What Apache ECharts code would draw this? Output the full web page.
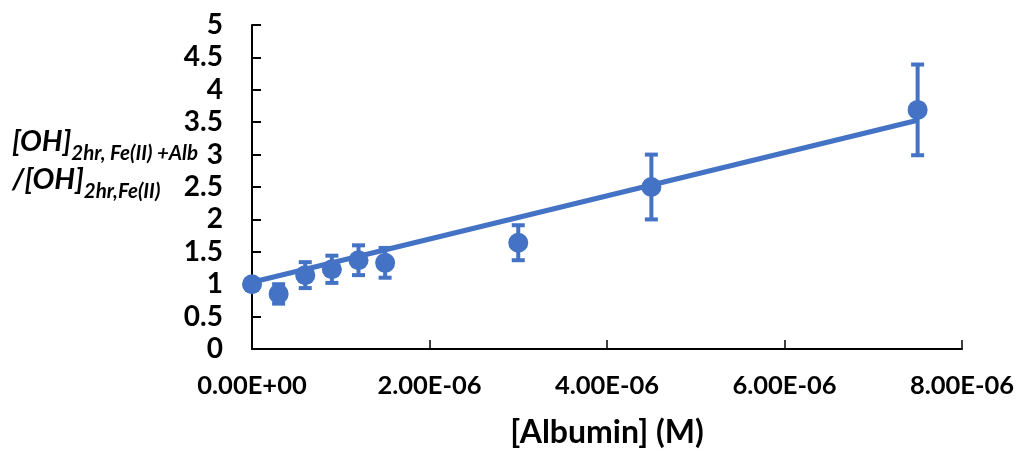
<!DOCTYPE html>
<html>
<head>
<meta charset="utf-8">
<script src="https://cdn.jsdelivr.net/npm/echarts@6/dist/echarts.min.js"></script>
<style>
  html, body { margin: 0; padding: 0; background: #fff; }
  #chart { width: 1018px; height: 454px; }
</style>
</head>
<body>
<div id="chart"></div>
<script>
// Albumin concentration (M)
const albumin = [0, 3.0e-7, 6.0e-7, 9.0e-7, 1.2e-6, 1.5e-6, 3.0e-6, 4.5e-6, 7.5e-6];
// Ratio [OH]2hr,Fe(II)+Alb / [OH]2hr,Fe(II)
const ratio = [1.0, 0.85, 1.14, 1.23, 1.37, 1.33, 1.64, 2.5, 3.69];
// Error bar half-widths
const errors = [0, 0.15, 0.2, 0.21, 0.23, 0.23, 0.27, 0.5, 0.7];
// Linear trend line end points
const trendX = [0, 7.5e-6];
const trendY = [1.03, 3.53];

const BLUE = '#4472C4';
const FONT = 'Lato, "Open Sans", sans-serif';

function sci(v) {
  if (v === 0) return '0.00E+00';
  const s = v.toExponential(2).split('e');
  const exp = parseInt(s[1], 10);
  const sign = exp < 0 ? '-' : '+';
  const mag = String(Math.abs(exp)).padStart(2, '0');
  return s[0] + 'E' + sign + mag;
}

const points = albumin.map((x, i) => [x, ratio[i]]);
const errData = albumin.map((x, i) => [x, ratio[i] - errors[i], ratio[i] + errors[i]]);
const trendData = trendX.map((x, i) => [x, trendY[i]]);

const chart = echarts.init(document.getElementById('chart'));
chart.setOption({
  animation: false,
  grid: { left: 252, right: 56, top: 25, bottom: 105, containLabel: false, outerBoundsMode: 'none' },
  xAxis: {
    type: 'value', min: 0, max: 8e-6, interval: 2e-6,
    axisLine: { lineStyle: { color: '#000', width: 2 } },
    axisTick: { inside: true, length: 9, lineStyle: { color: '#000', width: 1.5 } },
    axisLabel: { formatter: sci, margin: 24, fontFamily: FONT, fontWeight: 'bold', fontSize: 25.5, color: '#000' },
    splitLine: { show: false }
  },
  yAxis: {
    type: 'value', min: 0, max: 5, interval: 0.5,
    axisLine: { show: true, lineStyle: { color: '#000', width: 2 } },
    axisTick: { show: true, inside: true, length: 9, lineStyle: { color: '#000', width: 2 } },
    axisLabel: { margin: 29, fontFamily: FONT, fontWeight: 'bold', fontSize: 28, color: '#000' },
    splitLine: { show: false }
  },
  graphic: [
    {
      // x-axis title
      type: 'text', x: 607, y: 433,
      style: {
        text: '[Albumin] (M)', align: 'center', verticalAlign: 'middle',
        textAlign: 'center', textVerticalAlign: 'middle',
        font: 'bold 32px ' + FONT, fill: '#000'
      }
    },
    {
      // y-axis title with subscripts
      type: 'text', left: 12, top: 127,
      style: {
        text: '{m|[OH]}{s|2hr, Fe(II) +Alb}\n{m|/[OH]}{s|2hr,Fe(II)}',
        rich: {
          m: { fontFamily: FONT, fontWeight: 'bold', fontStyle: 'italic', fontSize: 29, lineHeight: 38, padding: [0, 0, 7, 0], verticalAlign: 'bottom', fill: '#000' },
          s: { fontFamily: FONT, fontWeight: 'bold', fontStyle: 'italic', fontSize: 20.5, lineHeight: 38, verticalAlign: 'bottom', fill: '#000' }
        }
      }
    }
  ],
  series: [
    {
      type: 'line', data: trendData, showSymbol: false, symbol: 'none',
      lineStyle: { color: BLUE, width: 5 }, z: 2
    },
    {
      type: 'custom', data: errData, z: 3,
      renderItem: function (params, api) {
        const x = api.value(0);
        const lo = api.coord([x, api.value(1)]);
        const hi = api.coord([x, api.value(2)]);
        const cap = 6.5;
        const st = { stroke: BLUE, lineWidth: 4 };
        return {
          type: 'group',
          children: [
            { type: 'line', shape: { x1: lo[0], y1: lo[1], x2: hi[0], y2: hi[1] }, style: st },
            { type: 'line', shape: { x1: lo[0] - cap, y1: lo[1], x2: lo[0] + cap, y2: lo[1] }, style: st },
            { type: 'line', shape: { x1: hi[0] - cap, y1: hi[1], x2: hi[0] + cap, y2: hi[1] }, style: st }
          ]
        };
      }
    },
    {
      type: 'scatter', data: points, symbol: 'circle', symbolSize: 20,
      itemStyle: { color: BLUE, opacity: 1 }, z: 4
    }
  ]
});
</script>
</body>
</html>
